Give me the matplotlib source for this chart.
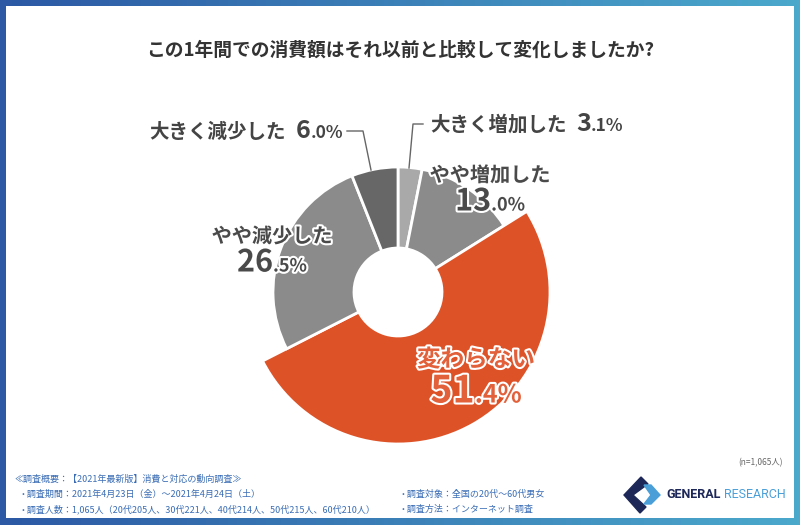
import matplotlib
matplotlib.use("Agg")
import numpy as np
import matplotlib.pyplot as plt
import matplotlib.patheffects as pe
from matplotlib.offsetbox import TextArea, HPacker, VPacker, AnnotationBbox
from matplotlib.patches import Rectangle, Polygon
from matplotlib.colors import to_rgb

plt.rcParams['font.family'] = ['Noto Sans CJK JP', 'DejaVu Sans']

# data (clockwise from 12 o'clock)
labels = ["大きく増加した", "やや増加した", "変わらない", "やや減少した", "大きく減少した"]
values = [3.1, 13.0, 51.4, 26.5, 6.0]
colors = ["#a9a9a9", "#8b8b8b", "#de5227", "#8b8b8b", "#676767"]

title = "この1年間での消費額はそれ以前と比較して変化しましたか?"
n_note = "(n=1,065人)"
notes_left = [
    "≪調査概要：【2021年最新版】消費と対応の動向調査≫",
    "・調査期間：2021年4月23日（金）～2021年4月24日（土）",
    "・調査人数：1,065人（20代205人、30代221人、40代214人、50代215人、60代210人）",
]
notes_right = [
    "・調査対象：全国の20代～60代男女",
    "・調査方法：インターネット調査",
]

W, H = 800, 525
fig = plt.figure(figsize=(8, 5.25), dpi=100)
ax = fig.add_axes([0, 0, 1, 1])


def Y(y):
    return H - y


# blue gradient frame
c1, c2 = np.array(to_rgb("#2c58a4")), np.array(to_rgb("#4ba9cc"))
t = np.linspace(0, 1, 256)[None, :, None]
grad = c1 * (1 - t) + c2 * t
ax.imshow(grad, extent=(0, W, 0, H), aspect='auto', zorder=0)
ax.add_patch(Rectangle((6, Y(518)), 788, 512, facecolor='white', edgecolor='none', zorder=1))

# donut
cx, cy = 398, Y(292)
hole = 44
wedges, _ = ax.pie(values, colors=colors, startangle=90, counterclock=False,
                   radius=125, center=(cx, cy),
                   wedgeprops=dict(width=125 - hole, edgecolor='white', linewidth=2))
for w in wedges:
    w.set_zorder(3)
wedges[2].set_radius(152)
wedges[2].set_width(152 - hole)

gray_stroke = [pe.withStroke(linewidth=3, foreground='white')]
orange_stroke = [pe.withStroke(linewidth=3, foreground='white')]


def pct_box(v, big, small, color, stroke):
    ip, dp = f"{v:.1f}%".split(".")
    a = TextArea(ip, textprops=dict(fontsize=big, fontweight='bold', color=color,
                                    path_effects=stroke))
    b = TextArea("." + dp, textprops=dict(fontsize=small, fontweight='bold', color=color,
                                          path_effects=stroke))
    return HPacker(children=[a, b], align="baseline", pad=0, sep=0)


def two_line(i, x, y, fs, big, small, color, stroke, sep=0):
    top = TextArea(labels[i], textprops=dict(fontsize=fs, fontweight='bold', color=color,
                                             path_effects=stroke))
    box = VPacker(children=[top, pct_box(values[i], big, small, color, stroke)],
                  align="center", pad=0, sep=sep)
    ax.add_artist(AnnotationBbox(box, (x, Y(y)), frameon=False, box_alignment=(0.5, 0.5),
                                 zorder=5))


def one_line(i, x, y, align):
    lab = TextArea(labels[i], textprops=dict(fontsize=14, fontweight='bold', color='#444444'))
    box = HPacker(children=[lab, pct_box(values[i], 18, 12.5, '#444444', [])],
                  align="baseline", pad=0, sep=7)
    ax.add_artist(AnnotationBbox(box, (x, Y(y)), frameon=False, box_alignment=(align, 0.5),
                                 zorder=5))


one_line(0, 430, 124, 0)
one_line(4, 343, 131, 1)
two_line(1, 490, 191, 14.5, 22, 13, '#4a4a4a', gray_stroke)
two_line(3, 272, 252, 14.5, 22, 13, '#4a4a4a', gray_stroke)
two_line(2, 476, 379, 17, 27, 18, '#e2603a', orange_stroke)

# leader lines
ax.plot([409, 413, 423], [Y(168), Y(124), Y(124)], color='#666666', lw=1, zorder=4)
ax.plot([347, 363, 371], [Y(131), Y(131), Y(170)], color='#666666', lw=1, zorder=4)

ax.text(400, Y(50), title, ha='center', va='center', fontsize=13.5, fontweight='bold',
        color='#333333', zorder=5)

# footer
blue = '#3a6db5'
ax.text(15, Y(479), notes_left[0], fontsize=6.5, color=blue, va='center', zorder=5)
for k, s in enumerate(notes_left[1:]):
    ax.text(18, Y(494 + 15 * k), s, fontsize=6.5, color=blue, va='center', zorder=5)
for k, s in enumerate(notes_right):
    ax.text(398, Y(494 + 15 * k), s, fontsize=6.5, color=blue, va='center', zorder=5)
ax.text(783, Y(463), n_note, fontsize=6, color='#666666', ha='right', va='center', zorder=5)

# logo
navy, sky = '#1d2858', '#4a9fd8'
ax.add_patch(Polygon([(641, Y(477)), (648, Y(484)), (633, Y(495)), (646, Y(507)),
                      (640, Y(513)), (624, Y(495))], closed=True, color=navy, zorder=5))
ax.add_patch(Polygon([(644, Y(485)), (651, Y(485)), (660, Y(495)), (651, Y(504)),
                      (644, Y(504)), (651, Y(495))], closed=True, color=sky, zorder=5))
ax.text(666, Y(495), "GENERAL", fontsize=9, fontweight='bold', color=navy,
        family='Roboto', va='center', zorder=5)
ax.text(724, Y(495), "RESEARCH", fontsize=9, color=sky, family='Roboto',
        va='center', zorder=5)

ax.set_xlim(0, W)
ax.set_ylim(0, H)
ax.set_aspect('auto')
ax.axis('off')

fig.savefig("out.png", dpi=100)
